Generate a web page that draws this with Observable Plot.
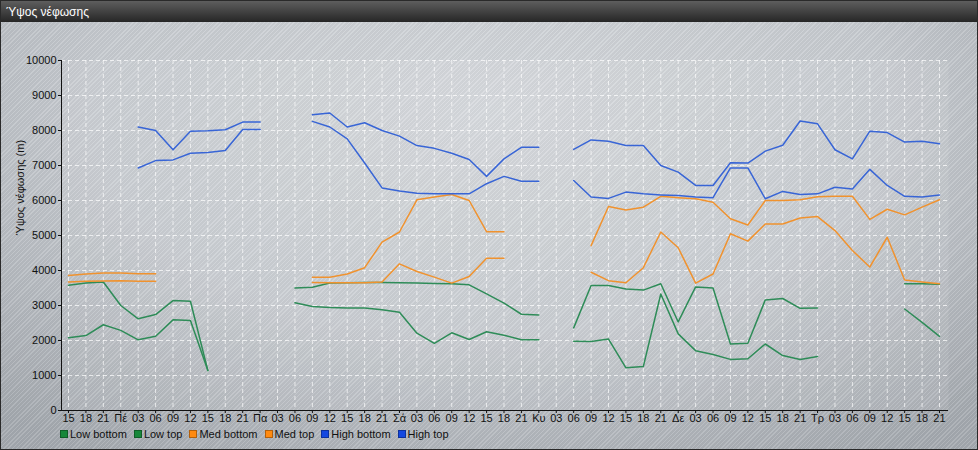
<!DOCTYPE html>
<html><head><meta charset="utf-8">
<script src="https://cdn.jsdelivr.net/npm/d3@7"></script>
<script src="https://cdn.jsdelivr.net/npm/@observablehq/plot@0.6"></script>
<style>
body{margin:0;background:#fff;}
#wrap{position:relative;width:976px;height:448px;border:1px solid #2a2a2a;overflow:hidden;
 font-family:"Liberation Sans",Arial,sans-serif;
 background:
  repeating-linear-gradient(135deg, rgba(255,255,255,0.13) 0px, rgba(255,255,255,0.13) 1px, rgba(0,0,0,0.03) 1px, rgba(0,0,0,0.03) 3px),
  radial-gradient(ellipse 75% 90% at 50% 25%, #d4d8dc 0%, #c6cacf 55%, #a4a9af 100%);}
#title{height:21px;background:linear-gradient(#5e5e5e,#262626);color:#fff;font-size:12px;line-height:22px;padding-left:5px;}
#legend{position:absolute;left:59px;top:426px;font-size:11px;color:#111;display:flex;gap:7px;line-height:14px;}
#legend span.sw{display:inline-block;width:6px;height:6px;margin-right:2px;vertical-align:0px;border:0.5px solid rgba(0,0,0,0.3)}
</style></head>
<body>
<div id="wrap">
 <div id="title">Ύψος νέφωσης</div>
 <div id="chart"></div>
 <div id="legend"></div>
</div>
<script>
const xLabels = ["15","18","21","Πέ","03","06","09","12","15","18","21","Πα","03","06","09","12","15","18","21","Σά","03","06","09","12","15","18","21","Κυ","03","06","09","12","15","18","21","Δε","03","06","09","12","15","18","21","Τρ","03","06","09","12","15","18","21"];
const N = null;
const lowBottom = [2080,2140,2450,2290,2020,2120,2590,2570,1140,N,N,N,N,3080,2970,2940,2930,2930,2880,2810,2210,1920,2220,2030,2250,2150,2020,2020,N,1980,1970,2040,1220,1260,3330,2190,1710,1600,1460,1480,1900,1570,1460,1540,N,N,N,N,2900,2520,2120];
const lowTop = [3580,3640,3670,3000,2620,2740,3140,3120,1140,N,N,N,N,3500,3520,3640,3650,3660,3660,3650,3640,3630,3620,3590,3330,3070,2750,2730,N,2360,3570,3570,3470,3440,3620,2530,3530,3500,1900,1920,3160,3200,2920,2930,N,N,N,N,3620,3620,3610];
const medBottom = [3670,3690,3700,3710,3690,3690,N,N,N,N,N,N,N,N,3660,3650,3650,3650,3670,4190,3970,3810,3640,3830,4350,4350,N,N,N,N,3950,3710,3650,4080,5100,4650,3640,3900,5050,4840,5330,5330,5500,5540,5140,4570,4100,4950,3730,3670,3620];
const medTop = [3860,3900,3930,3930,3910,3910,N,N,N,N,N,N,N,N,3810,3810,3900,4080,4810,5100,6020,6100,6170,6000,5110,5110,N,N,N,N,4710,5830,5730,5810,6120,6080,6050,5950,5480,5300,6000,6000,6020,6110,6120,6120,5460,5750,5590,5810,6020];
const highBottom = [N,N,N,N,6930,7140,7160,7350,7370,7430,8030,8030,N,N,8260,8100,7760,7070,6360,6270,6210,6190,6190,6190,6480,6690,6550,6550,N,6570,6100,6060,6240,6190,6160,6140,6100,6080,6930,6930,6050,6260,6170,6190,6380,6330,6890,6430,6120,6100,6160];
const highTop = [N,N,N,N,8100,8000,7450,7980,7990,8020,8240,8240,N,N,8450,8500,8100,8220,8000,7840,7570,7490,7350,7170,6690,7190,7520,7520,N,7460,7730,7690,7570,7570,7000,6810,6430,6430,7080,7070,7410,7580,8270,8190,7450,7190,7980,7940,7670,7690,7620];
const seriesNames = ["Low bottom","Low top","Med bottom","Med top","High bottom","High top"];
const lineColors = ["#2e8c58","#2e8c58","#f0922e","#f0922e","#3865d6","#3865d6"];
const legendColors = ["#17873a","#17873a","#ff8a10","#ff8a10","#1448e0","#1448e0"];
const yTicks = d3.range(0, 10001, 1000);

const allSeries = [lowBottom, lowTop, medBottom, medTop, highBottom, highTop];
const rows = xLabels.map((lab, i) => {
  const r = {i};
  seriesNames.forEach((n, k) => r[n] = allSeries[k][i]);
  return r;
});

const chart = Plot.plot({
  width: 976, height: 404,
  marginLeft: 60, marginRight: 29, marginTop: 38, marginBottom: 16,
  style: {background: "transparent", fontFamily: "'Liberation Sans', Arial, sans-serif", fontSize: "11px", color: "#111"},
  x: {type: "linear", domain: [-0.402, 50.517]},
  y: {domain: [0, 10000]},
  marks: [
    Plot.frame({fill: "white", fillOpacity: 0.08, stroke: "none"}),
    Plot.gridX({ticks: d3.range(xLabels.length), stroke: "white", strokeOpacity: 0.7, strokeDasharray: "4,3"}),
    Plot.gridY({ticks: yTicks, stroke: "white", strokeOpacity: 0.7, strokeDasharray: "4,3"}),
    ...seriesNames.map((n, k) => Plot.line(rows, {x: "i", y: n, stroke: lineColors[k], strokeWidth: 1.5})),
    Plot.axisX({ticks: d3.range(xLabels.length), tickFormat: i => xLabels[i], tickSize: 3, tickPadding: 1, label: null, fill: "#111", fontSize: 11}),
    Plot.axisY({ticks: yTicks, tickFormat: d => String(d), tickSize: 3, tickPadding: 2, label: null, fill: "#111", fontSize: 11}),
    Plot.ruleX([-0.402], {stroke: "#111"}),
    Plot.ruleY([0], {stroke: "#111"}),
    Plot.text(["Ύψος νέφωσης (m)"], {frameAnchor: "left", dx: -41, rotate: -90, fill: "#111", fontSize: 11})
  ]
});
document.getElementById("chart").appendChild(chart);
chart.style.display = "block";

const lg = document.getElementById("legend");
seriesNames.forEach((n, k) => {
  const d = document.createElement("div");
  d.innerHTML = `<span class="sw" style="background:${legendColors[k]}"></span>${n}`;
  lg.appendChild(d);
});
</script>
</body></html>
